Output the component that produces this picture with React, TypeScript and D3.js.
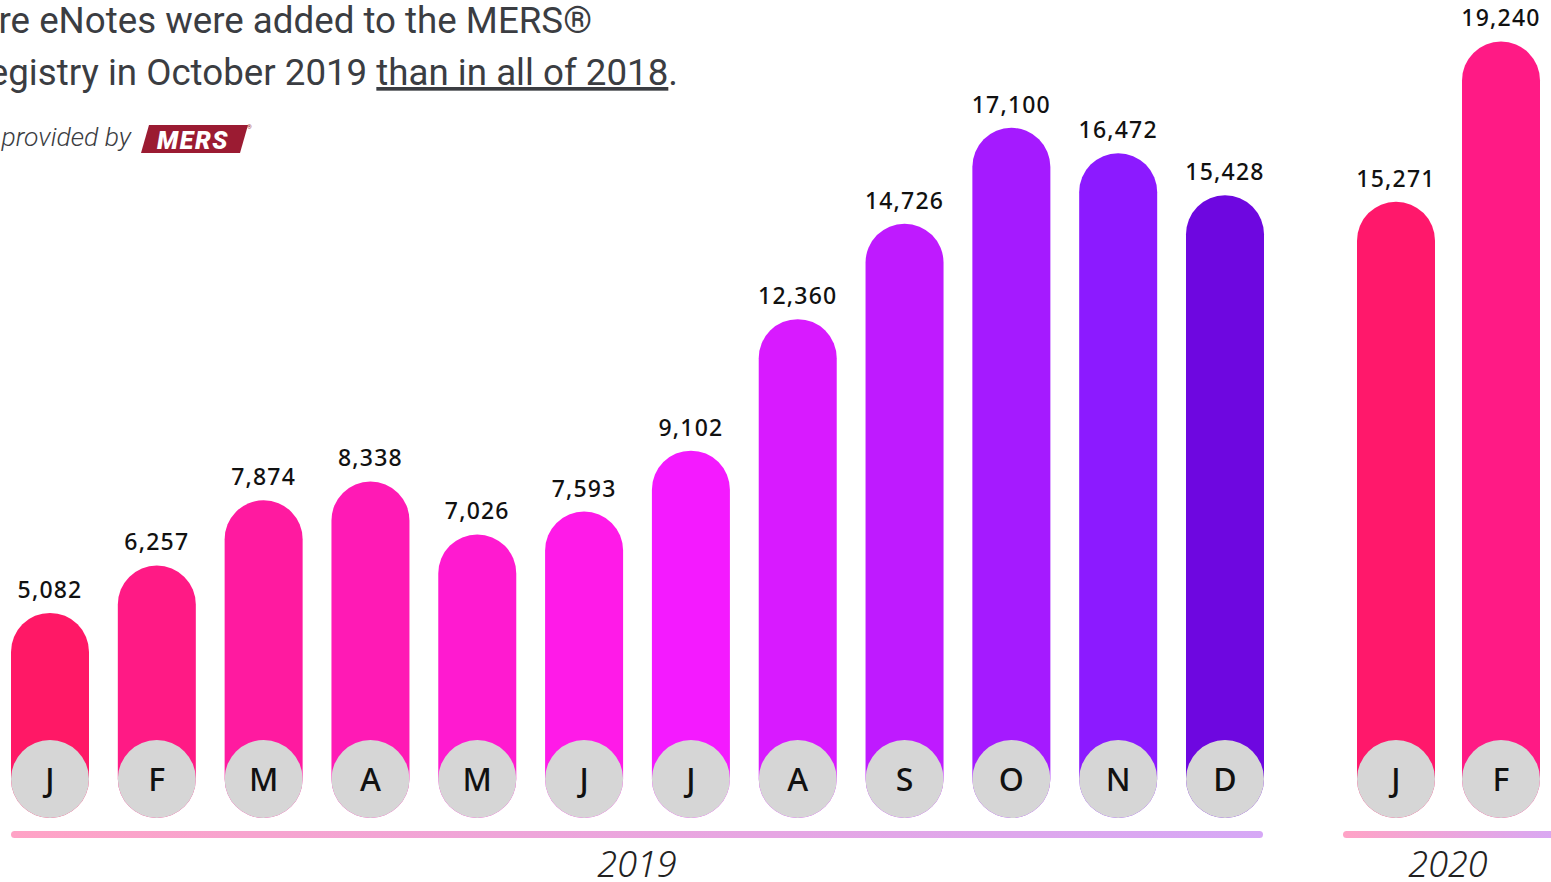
import React from "react";
import * as d3 from "d3";

const months2019 = ["J", "F", "M", "A", "M", "J", "J", "A", "S", "O", "N", "D"];
const values2019 = [5082, 6257, 7874, 8338, 7026, 7593, 9102, 12360, 14726, 17100, 16472, 15428];
const colors2019 = ["#ff1866", "#ff1a85", "#ff1aa0", "#ff1ab5", "#ff1ad0", "#ff1ae8", "#f41aff", "#d81aff", "#bf1aff", "#a51aff", "#8c1aff", "#6e07e0"];
const months2020 = ["J", "F"];
const values2020 = [15271, 19240];
const colors2020 = ["#ff186b", "#ff1a85"];
const years = ["2019", "2020"];

const W = 1551;
const H = 882;
const BAR_W = 78;
const R = 39;
const BASE = 818;

export default function App() {
  const y = d3.scaleLinear().domain([0, 20000]).range([BASE, BASE - 807.2]);
  const x2019 = d3.scalePoint<number>().domain(d3.range(months2019.length)).range([50, 1225]);
  const x2020 = d3.scalePoint<number>().domain(d3.range(months2020.length)).range([1396, 1501]);
  const fmt = d3.format(",");

  const groups = [
    { months: months2019, values: values2019, colors: colors2019, x: x2019, line: [11, 1263], year: years[0], yearX: 637 },
    { months: months2020, values: values2020, colors: colors2020, x: x2020, line: [1343, 1570], year: years[1], yearX: 1448 },
  ];

  return (
    <svg width={W} height={H} style={{ position: "absolute", left: 0, top: 0, display: "block" }}>
      <defs>
        <linearGradient id="axisGrad" x1="0" x2="1" y1="0" y2="0">
          <stop offset="0%" stopColor="#ffa3c6" />
          <stop offset="100%" stopColor="#d6a8f6" />
        </linearGradient>
      </defs>
      <rect width={W} height={H} fill="#ffffff" />
      <g fontFamily="Roboto" fontWeight={400} fill="#3b3d42" fontSize={36.7}>
        <text x={592} y={33} textAnchor="end">More eNotes were added to the MERS®</text>
        <text x={678} y={85} textAnchor="end">
          eRegistry in October 2019 <tspan textDecoration="underline">than in all of 2018</tspan>.
        </text>
      </g>
      <text x={131} y={146} textAnchor="end" fontFamily="Roboto" fontWeight={300} fontStyle="italic" fontSize={26.5} fill="#3b3d42">
        provided by
      </text>
      <g>
        <polygon points="149,125 248,125 240,153 141,153" fill="#9b1b32" />
        <text x={193} y={149} textAnchor="middle" fontFamily="Roboto" fontWeight={900} fontStyle="italic" fontSize={25} fill="#ffffff" letterSpacing={1.5}>
          MERS
        </text>
        <text x={247} y={129} fontFamily="Roboto" fontSize={6} fill="#9b1b32">®</text>
      </g>
      {groups.map((g, gi) => (
        <g key={gi}>
          {g.values.map((v, i) => {
            const cx = g.x(i)!;
            const top = y(v);
            return (
              <g key={i}>
                <rect x={cx - BAR_W / 2} y={top} width={BAR_W} height={BASE - top} rx={R} ry={R} fill={g.colors[i]} />
                <circle cx={cx} cy={BASE - R} r={R} fill="#d6d6d6" />
                <text x={cx} y={BASE - R + 12} textAnchor="middle" fontFamily="Noto Sans" fontWeight={500} fontSize={32} fill="#111">
                  {g.months[i]}
                </text>
                <text x={cx} y={top - 15} textAnchor="middle" fontFamily="Noto Sans" fontWeight={500} fontSize={23} letterSpacing={1.2} fill="#111">
                  {fmt(v)}
                </text>
              </g>
            );
          })}
          <rect x={g.line[0]} y={831} width={g.line[1] - g.line[0]} height={7} rx={3.5} fill="url(#axisGrad)" />
          <text x={g.yearX} y={877} textAnchor="middle" fontFamily="Noto Sans" fontStyle="italic" fontWeight={300} fontSize={36} fill="#222">
            {g.year}
          </text>
        </g>
      ))}
    </svg>
  );
}
